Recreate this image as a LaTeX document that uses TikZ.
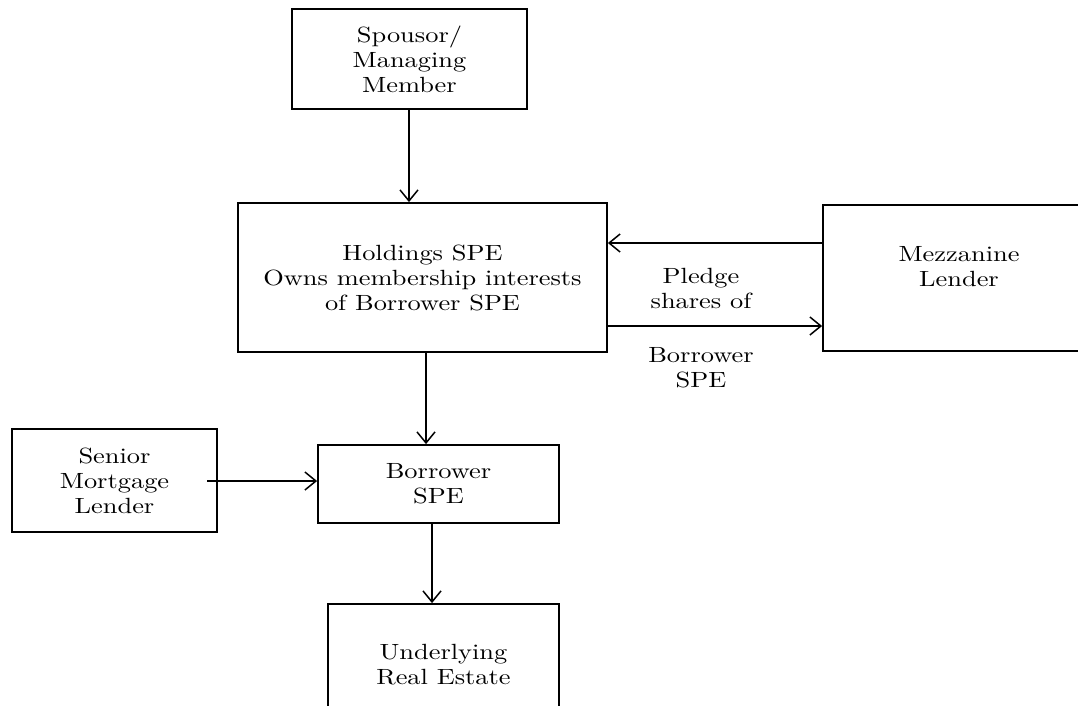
\documentclass[tikz,border=0pt]{standalone}
\usepackage{fontspec}
\setmainfont{lmroman10-regular.otf}[FakeStretch=1.2]
\usetikzlibrary{arrows.meta}
\tikzset{
  box/.style={draw, line width=1.8pt, align=center, inner sep=0pt,
    font=\fontsize{22}{25}\selectfont},
  txt/.style={align=center, inner sep=0pt, font=\fontsize{22}{25}\selectfont},
  link/.style={line width=1.6pt, -{Straight Barb[length=11pt,width=18pt,line width=1.5pt]}}
}
\begin{document}
\begin{tikzpicture}[x=1pt,y=-1pt]
\clip (0,0) rectangle (1078,706);
\fill[white] (0,0) rectangle (1078,706);
% boxes
\node[box, minimum width=235pt, minimum height=100pt] (sponsor) at (409.5,59) {Spousor/\\Managing\\Member};
\node[box, minimum width=369pt, minimum height=149pt] (holdings) at (422.5,277.5) {Holdings SPE\\Owns membership interests\\of Borrower SPE};
\node[box, minimum width=272pt, minimum height=146pt] (mezz) at (959,278) {};
\node[txt] (mezzt) at (959,266.5) {Mezzanine\\Lender};
\node[box, minimum width=241pt, minimum height=78pt] (borrower) at (438.5,484) {Borrower\\SPE};
\node[box, minimum width=205pt, minimum height=103pt] (senior) at (114.5,480.5) {Senior\\Mortgage\\Lender};
\node[box, minimum width=231pt, minimum height=122pt] (estate) at (443.5,665) {Underlying\\Real Estate};
\node[txt] (pledge) at (701,328) {Pledge\\shares of\\[29pt]Borrower\\SPE};
% connector reference points
\coordinate (c1) at (409,0);
\coordinate (c2) at (0,243);
\coordinate (c3) at (0,326);
\coordinate (c4) at (426,0);
\coordinate (c5) at (207,481);
\coordinate (c6) at (432,0);
% connectors
\draw[link] (sponsor.south -| c1) -- (holdings.north -| c1);
\draw[link] (mezz.west |- c2) -- (holdings.east |- c2);
\draw[link] (holdings.east |- c3) -- (mezz.west |- c3);
\draw[link] (holdings.south -| c4) -- (borrower.north -| c4);
\draw[link] (c5) -- (borrower.west |- c5);
\draw[link] (borrower.south -| c6) -- (estate.north -| c6);
\end{tikzpicture}
\end{document}
